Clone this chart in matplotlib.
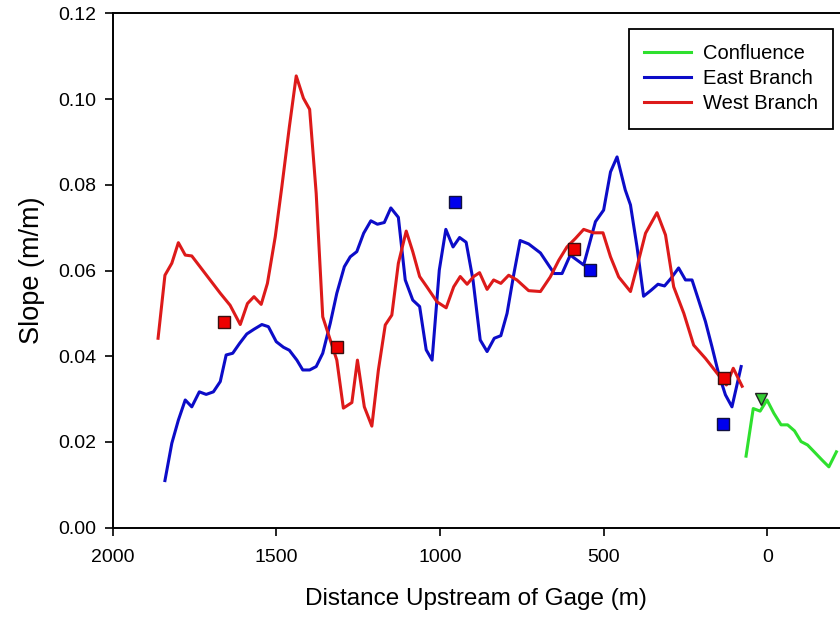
import numpy as np
import matplotlib
matplotlib.use('Agg')
import matplotlib.pyplot as plt

plt.rcParams['font.family'] = ['Liberation Sans', 'DejaVu Sans']

# West Branch slope profile (distance upstream in m, slope in m/m)
west_x = [1861, 1840, 1819, 1799, 1778, 1758, 1717, 1671, 1641, 1610, 1588, 1568, 1546, 1527,
          1503, 1483, 1460, 1439, 1417, 1398, 1378, 1358, 1335, 1315, 1295, 1269, 1252, 1231,
          1208, 1188, 1167, 1147, 1127, 1103, 1083, 1062, 1040, 1009, 981, 958, 938, 917, 897,
          879, 856, 836, 814, 790, 765, 729, 693, 663, 637, 612, 586, 561, 531, 502, 479, 454,
          418, 398, 372, 337, 311, 286, 255, 225, 189, 153, 125, 104, 77]
west_y = [0.0442, 0.0589, 0.0617, 0.0665, 0.0636, 0.0634, 0.0593, 0.0547, 0.0519, 0.0474, 0.0523,
          0.0539, 0.0521, 0.0570, 0.0679, 0.0795, 0.0935, 0.1054, 0.1002, 0.0976, 0.0780, 0.0492,
          0.0438, 0.0391, 0.0279, 0.0292, 0.0391, 0.0282, 0.0237, 0.0368, 0.0473, 0.0496, 0.0617,
          0.0692, 0.0644, 0.0586, 0.0562, 0.0527, 0.0513, 0.0562, 0.0586, 0.0568, 0.0586, 0.0595,
          0.0556, 0.0578, 0.0570, 0.0589, 0.0578, 0.0553, 0.0551, 0.0585, 0.0624, 0.0655, 0.0675,
          0.0696, 0.0688, 0.0688, 0.0632, 0.0585, 0.0551, 0.0609, 0.0687, 0.0735, 0.0683, 0.0562,
          0.0500, 0.0426, 0.0395, 0.0360, 0.0333, 0.0372, 0.0330]

# East Branch slope profile
east_x = [1840, 1819, 1799, 1778, 1758, 1735, 1714, 1692, 1671, 1653, 1633, 1612, 1590, 1568,
          1544, 1524, 1500, 1478, 1460, 1437, 1419, 1398, 1378, 1358, 1335, 1315, 1292, 1274,
          1254, 1233, 1211, 1191, 1170, 1150, 1127, 1106, 1083, 1062, 1042, 1024, 1002, 982, 960,
          940, 920, 899, 877, 856, 834, 814, 795, 775, 755, 729, 693, 651, 627, 602, 561, 546,
          525, 500, 479, 459, 434, 418, 398, 378, 355, 334, 314, 294, 271, 250, 230, 210, 189,
          169, 149, 128, 108, 94, 80]
east_y = [0.0110, 0.0197, 0.0251, 0.0298, 0.0282, 0.0317, 0.0311, 0.0317, 0.0341, 0.0403, 0.0407,
          0.0430, 0.0452, 0.0463, 0.0474, 0.0469, 0.0434, 0.0421, 0.0414, 0.0391, 0.0368, 0.0368,
          0.0376, 0.0407, 0.0477, 0.0547, 0.0609, 0.0632, 0.0644, 0.0687, 0.0716, 0.0708, 0.0712,
          0.0746, 0.0724, 0.0578, 0.0531, 0.0516, 0.0415, 0.0391, 0.0601, 0.0696, 0.0655, 0.0677,
          0.0666, 0.0578, 0.0438, 0.0411, 0.0442, 0.0448, 0.0500, 0.0589, 0.0670, 0.0662, 0.0641,
          0.0593, 0.0593, 0.0636, 0.0613, 0.0655, 0.0714, 0.0741, 0.0830, 0.0865, 0.0788, 0.0753,
          0.0655, 0.0540, 0.0554, 0.0568, 0.0564, 0.0582, 0.0606, 0.0578, 0.0578, 0.0531, 0.0481,
          0.0422, 0.0360, 0.0310, 0.0282, 0.0329, 0.0376]

# Confluence slope profile
conf_x = [65, 43, 22, 1, -20, -42, -62, -83, -103, -123, -147, -167, -188, -211]
conf_y = [0.0167, 0.0278, 0.0272, 0.0298, 0.0267, 0.0240, 0.0240, 0.0226, 0.0201, 0.0193,
          0.0174, 0.0158, 0.0142, 0.0177]

# single measured points
west_pt_x = [1661, 1313, 592, 133]
west_pt_y = [0.0481, 0.0421, 0.0650, 0.0350]
east_pt_x = [953, 543, 135]
east_pt_y = [0.0760, 0.0601, 0.0241]
conf_pt_x = [20]
conf_pt_y = [0.0300]

green = '#2ee02e'
blue = '#0c0cc8'
red = '#dd1a1a'

fig = plt.figure(figsize=(8.4, 6.17), dpi=100)
ax = fig.add_axes([0.134, 0.1447, 0.866, 0.8337])

ax.plot(conf_x, conf_y, color=green, lw=2.2, label='Confluence')
ax.plot(east_x, east_y, color=blue, lw=2.2, label='East Branch')
ax.plot(west_x, west_y, color=red, lw=2.2, label='West Branch')

ax.plot(west_pt_x, west_pt_y, ls='none', marker='s', ms=8.5, mfc='#ee0000', mec='#3a1010', mew=1.0)
ax.plot(east_pt_x, east_pt_y, ls='none', marker='s', ms=8.5, mfc='#0000ee', mec='#101040', mew=1.0)
ax.plot(conf_pt_x, conf_pt_y, ls='none', marker='v', ms=9, mfc='#33cc33', mec='#222222', mew=1.0)

ax.set_xlim(2000, -222)
ax.set_ylim(0, 0.12)
ax.set_xticks([2000, 1500, 1000, 500, 0])
ax.set_yticks(np.arange(0, 0.121, 0.02))
ax.yaxis.set_major_formatter(matplotlib.ticker.FormatStrFormatter('%.2f'))
ax.tick_params(axis='both', direction='out', length=6, width=1.2, labelsize=14, pad=6)
ax.tick_params(axis='x', pad=9)
ax.spines['right'].set_visible(False)
for s in ['left', 'top', 'bottom']:
    ax.spines[s].set_linewidth(1.4)

ax.set_xlabel('Distance Upstream of Gage (m)', fontsize=17.5, labelpad=16)
ax.set_ylabel('Slope (m/m)', fontsize=19.5, labelpad=9)

leg = ax.legend(loc='upper right', bbox_to_anchor=(0.990, 0.969), borderaxespad=0,
                fancybox=False, fontsize=14.5, handlelength=2.3, handletextpad=0.6,
                labelspacing=0.3, borderpad=0.75, framealpha=1)
leg.get_frame().set_edgecolor('black')
leg.get_frame().set_linewidth(1.3)

fig.savefig('out.png', dpi=100)
